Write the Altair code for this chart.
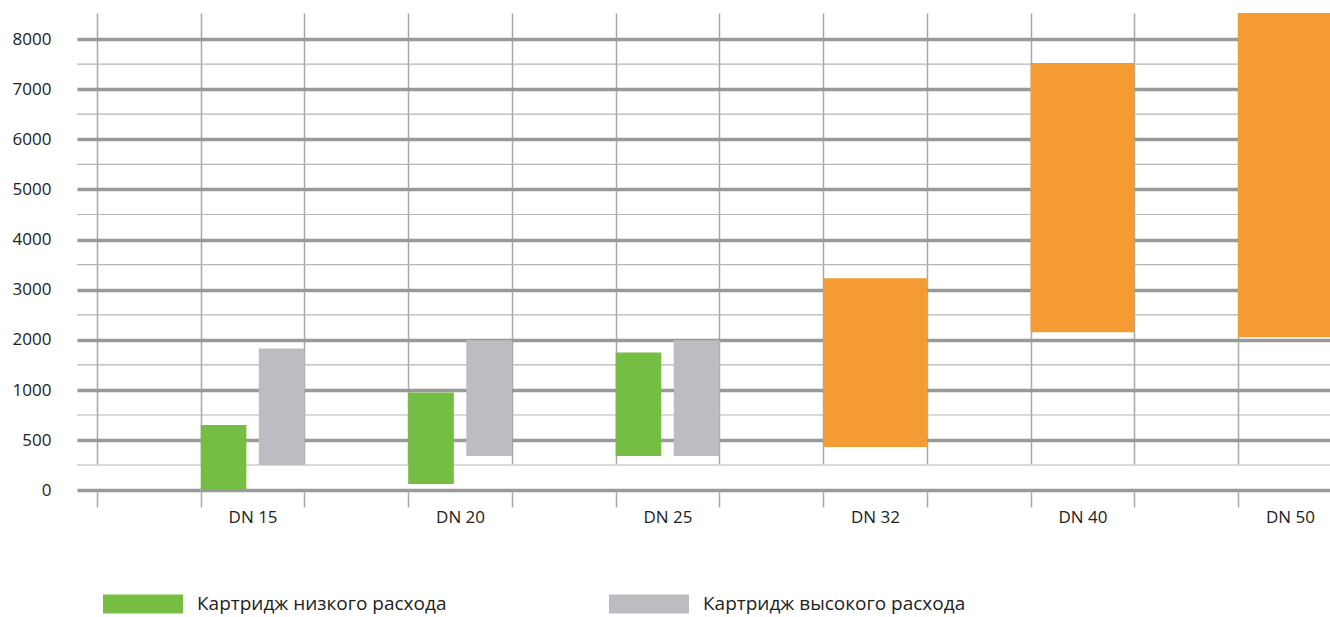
import altair as alt
import pandas as pd

# ---- data ----
categories = ["DN 15", "DN 20", "DN 25", "DN 32", "DN 40", "DN 50"]
series_names = ["Картридж низкого расхода", "Картридж высокого расхода", "Большой расход"]
series_colors = ["#76bd43", "#bcbdc0", "#f59b34"]

low_cat = ["DN 15", "DN 20", "DN 25"]
low_min = [0, 60, 340]
low_max = [650, 975, 1750]

high_cat = ["DN 15", "DN 20", "DN 25"]
high_min = [250, 340, 340]
high_max = [1830, 1990, 1990]

big_cat = ["DN 32", "DN 40", "DN 50"]
big_min = [430, 2150, 2050]
big_max = [3230, 7520, 8520]

y_ticks = [0, 500, 1000, 2000, 3000, 4000, 5000, 6000, 7000, 8000]
y_minor = [250, 750, 1500, 2500, 3500, 4500, 5500, 6500, 7500]

# ---- build table ----
BAR = 0.44  # fraction of a slot taken by a narrow bar
rows = []
for c, lo, hi in zip(low_cat, low_min, low_max):
    i = categories.index(c)
    rows.append(dict(category=c, series=series_names[0], lo=lo, hi=hi, x0=1 + 2 * i, x1=1 + 2 * i + BAR))
for c, lo, hi in zip(high_cat, high_min, high_max):
    i = categories.index(c)
    rows.append(dict(category=c, series=series_names[1], lo=lo, hi=hi, x0=2 + 2 * i - BAR, x1=2 + 2 * i))
for c, lo, hi in zip(big_cat, big_min, big_max):
    i = categories.index(c)
    rows.append(dict(category=c, series=series_names[2], lo=lo, hi=hi, x0=1 + 2 * i, x1=2 + 2 * i))
df = pd.DataFrame(rows)
minor_df = pd.DataFrame({"v": y_minor})

W, H = 1253, 477
SLOT = 103.73
x_scale = alt.Scale(domain=[-20 / SLOT, 1233 / SLOT], nice=False, zero=False)
y_scale = alt.Scale(domain=[0, 500, 1000, 8000], range=[H, H - 50, H - 100, H - 451],
                    nice=False, zero=False)

x_tick_values = sorted([float(k) for k in range(12)] + [1.5 + 2 * i for i in range(len(categories))])
cat_list = "[" + ",".join("'" + c + "'" for c in categories) + "]"
is_int = "datum.value % 1 === 0"

x_axis = alt.Axis(
    values=x_tick_values, title=None, domain=False,
    grid=True, gridColor="#a8a8a8", gridWidth=1.5,
    gridOpacity={"condition": {"test": is_int, "value": 1}, "value": 0},
    ticks=True, tickSize=17, tickColor="#a8a8a8", tickWidth=1.5,
    tickOpacity={"condition": {"test": is_int, "value": 1}, "value": 0},
    labelExpr=f"datum.value % 1 ? {cat_list}[floor(datum.value / 2)] : ''",
    labelFontSize=17, labelColor="#222222", labelPadding=2,
    labelOverlap=False, labelFlush=False,
)
y_axis = alt.Axis(
    values=y_ticks, title=None, domain=False, ticks=False,
    grid=True, gridColor="#999999", gridWidth=3.5,
    labelFontSize=17, labelColor="#222222", labelPadding=26, format="d",
)

minor = alt.Chart(minor_df).mark_rule(color="#b5b5b5", strokeWidth=1.2).encode(
    y=alt.Y("v:Q", scale=y_scale, axis=y_axis),
    x=alt.value(0),
    x2=alt.value(W),
)

bars = alt.Chart(df).mark_bar(clip=True).encode(
    x=alt.X("x0:Q", scale=x_scale, axis=x_axis),
    x2="x1:Q",
    y=alt.Y("lo:Q", scale=y_scale, axis=y_axis),
    y2="hi:Q",
    color=alt.Color(
        "series:N",
        scale=alt.Scale(domain=series_names, range=series_colors),
        legend=alt.Legend(
            values=series_names[:2], title=None, orient="none",
            legendX=26, legendY=581, direction="horizontal",
            symbolType="M-1,-0.95L7,-0.95L7,0.95L-1,0.95Z", symbolSize=400,
            symbolStrokeWidth=0, symbolOpacity=1,
            labelOffset=74, labelFontSize=19, labelColor="#222222",
            labelLimit=500, columnPadding=162, padding=0,
        ),
    ),
)

chart = alt.layer(minor, bars).properties(
    width=W, height=H,
    autosize=alt.AutoSizeParams(type="none"),
    padding={"left": 77, "top": 13, "right": 0, "bottom": 617 - 13 - H},
).configure(font="Open Sans").configure_view(stroke=None)

chart.save("out.html", embed_options={"renderer": "svg", "actions": False})
